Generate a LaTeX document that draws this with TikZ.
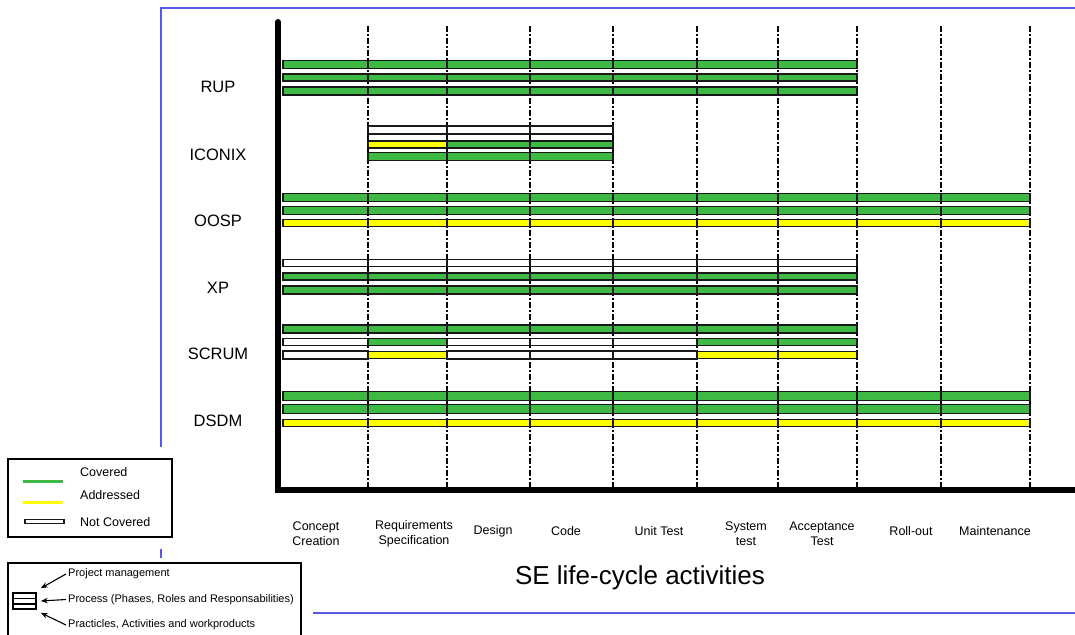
\documentclass[tikz,border=0pt]{standalone}
\usepackage{fontspec}
\setmainfont{Liberation Sans}
\usetikzlibrary{arrows.meta}
\definecolor{cvgreen}{RGB}{62,186,68}
\definecolor{adyellow}{RGB}{255,255,0}
\definecolor{frameblue}{RGB}{88,88,225}

% one bar row: y, half height, style, start x, list of column ends
\newcommand\segbar[5]{%
  \foreach \xb [remember=\xb as \xa (initially #4)] in {#5}{%
    \draw[#3] (\xa,#1-#2) rectangle (\xb,#1+#2);}}

\begin{document}
\begin{tikzpicture}[x=1pt,y=-1pt,
  bar/.style={draw=black!90,line width=1.5pt},
  gbar/.style={bar,fill=cvgreen},
  ybar/.style={bar,fill=adyellow},
  wbar/.style={bar,fill=white},
  phaseline/.style={line width=1.1pt,dash pattern=on 6pt off 2pt on 2pt off 2pt},
  grp/.style={font=\fontsize{16.5}{18}\selectfont,inner sep=0pt},
  phase/.style={font=\fontsize{12.5}{15}\selectfont,align=center,inner sep=0pt},
  legtext/.style={font=\fontsize{12.5}{14}\selectfont,anchor=west,inner sep=0pt},
  keytext/.style={font=\fontsize{11}{13}\selectfont,anchor=west,inner sep=0pt},
  frameline/.style={draw=frameblue,line width=2pt},
  boxline/.style={draw=black,line width=1.3pt,fill=white},
  ptr/.style={-{Stealth[length=7pt,width=5.5pt]},line width=1.1pt}
]
\useasboundingbox (0,0) rectangle (1075,634);
\clip (0,0) rectangle (1075,634);

% slide frame
\draw[frameline] (161,447) -- (161,8) -- (1080,8);
\draw[frameline] (161,549) -- (161,558);
\draw[frameline] (313,613) -- (1080,613);

% phase separators
\foreach \x in {368,447,530,613,697,778,857,941,1030}
  \draw[phaseline] (\x,26) -- (\x,488);

% RUP
\segbar{64.5}{4}{gbar}{283}{368,447,530,613,697,778,857}
\segbar{77.5}{3.5}{gbar}{283}{368,447,530,613,697,778,857}
\segbar{91}{4}{gbar}{283}{368,447,530,613,697,778,857}
% ICONIX
\segbar{130}{4}{wbar}{368}{447,530,613}
\segbar{144.5}{3.5}{ybar}{368}{447}
\segbar{144.5}{3.5}{gbar}{447}{530,613}
\segbar{156.5}{4}{gbar}{368}{447,530,613}
% OOSP
\segbar{197.5}{4}{gbar}{283}{368,447,530,613,697,778,857,941,1030}
\segbar{210.5}{4}{gbar}{283}{368,447,530,613,697,778,857,941,1030}
\segbar{223}{3.5}{ybar}{283}{368,447,530,613,697,778,857,941,1030}
% XP
\segbar{263}{3.5}{wbar}{283}{368,447,530,613,697,778,857}
\segbar{276.5}{3.5}{gbar}{283}{368,447,530,613,697,778,857}
\segbar{290}{4}{gbar}{283}{368,447,530,613,697,778,857}
% SCRUM
\segbar{329}{4}{gbar}{283}{368,447,530,613,697,778,857}
\segbar{342}{3.5}{wbar}{283}{368}
\segbar{342}{3.5}{gbar}{368}{447}
\segbar{342}{3.5}{wbar}{447}{530,613,697}
\segbar{342}{3.5}{gbar}{697}{778,857}
\segbar{355}{4}{wbar}{283}{368}
\segbar{355}{3.5}{ybar}{368}{447}
\segbar{355}{4}{wbar}{447}{530,613,697}
\segbar{355}{3.5}{ybar}{697}{778,857}
% DSDM
\segbar{396}{4.5}{gbar}{283}{368,447,530,613,697,778,857,941,1030}
\segbar{409}{4.5}{gbar}{283}{368,447,530,613,697,778,857,941,1030}
\segbar{423}{3.5}{ybar}{283}{368,447,530,613,697,778,857,941,1030}

% axes
\draw[line width=6pt,line cap=round,line join=miter] (278,22) -- (278,490) -- (1085,490);

% method names
\node[grp] (rup)    at (218,87)  {RUP};
\node[grp] (iconix) at (218,155) {ICONIX};
\node[grp] (oosp)   at (218,221) {OOSP};
\node[grp] (xp)     at (218,288) {XP};
\node[grp] (scrum)  at (218,354) {SCRUM};
\node[grp] (dsdm)   at (218,421) {DSDM};

% life-cycle phases
\node[phase] (concept) at (316,533.5) {Concept\\Creation};
\node[phase] (reqs)    at (414,533.5) {Requirements\\Specification};
\node[phase] (design)  at (493,531.5) {Design};
\node[phase] (code)    at (566,531.5) {Code};
\node[phase] (unit)    at (659,531.5) {Unit Test};
\node[phase] (system)  at (746,533.5) {System\\test};
\node[phase] (accept)  at (822,533.5) {Acceptance\\Test};
\node[phase] (rollout) at (911,531.5) {Roll-out};
\node[phase] (maint)   at (995,531.5) {Maintenance};

\node[font=\fontsize{26}{30}\selectfont,inner sep=0pt] (title) at (640,578) {SE life-cycle activities};

% coverage key
\draw[boxline] (8,459) rectangle (172,537);
\draw[cvgreen,line width=3pt] (23,481) -- (63,481);
\draw[adyellow,line width=3pt] (23,502) -- (63,502);
\draw[bar,line width=1.3pt,fill=white] (25,519.5) rectangle (64,523.5);
\node[legtext] (covered)   at (80,472) {Covered};
\node[legtext] (addressed) at (80,495) {Addressed};
\node[legtext] (notcov)    at (80,522.5) {Not Covered};

% bar layer key
\draw[boxline] (8,563) rectangle (301,650);
\node[draw,line width=1.6pt,minimum width=23pt,minimum height=16pt,inner sep=0pt] (stack) at (24.5,601) {};
\draw[line width=1.6pt] ([yshift=2.7pt]stack.west) -- ([yshift=2.7pt]stack.east);
\draw[line width=1.6pt] ([yshift=-2.7pt]stack.west) -- ([yshift=-2.7pt]stack.east);
\node[keytext] (pm)   at (68,574) {Project management};
\node[keytext] (proc) at (68,599.5) {Process (Phases, Roles and Responsabilities)};
\node[keytext] (prac) at (68,625) {Practicles, Activities and workproducts};
\draw[ptr] ([xshift=-2pt]pm.west) -- ([xshift=4pt,yshift=4pt]stack.north east);
\draw[ptr] ([xshift=-2pt]proc.west) -- ([xshift=4pt]stack.east);
\draw[ptr] ([xshift=-2pt]prac.west) -- ([xshift=4pt,yshift=-3pt]stack.south east);
\end{tikzpicture}
\end{document}
